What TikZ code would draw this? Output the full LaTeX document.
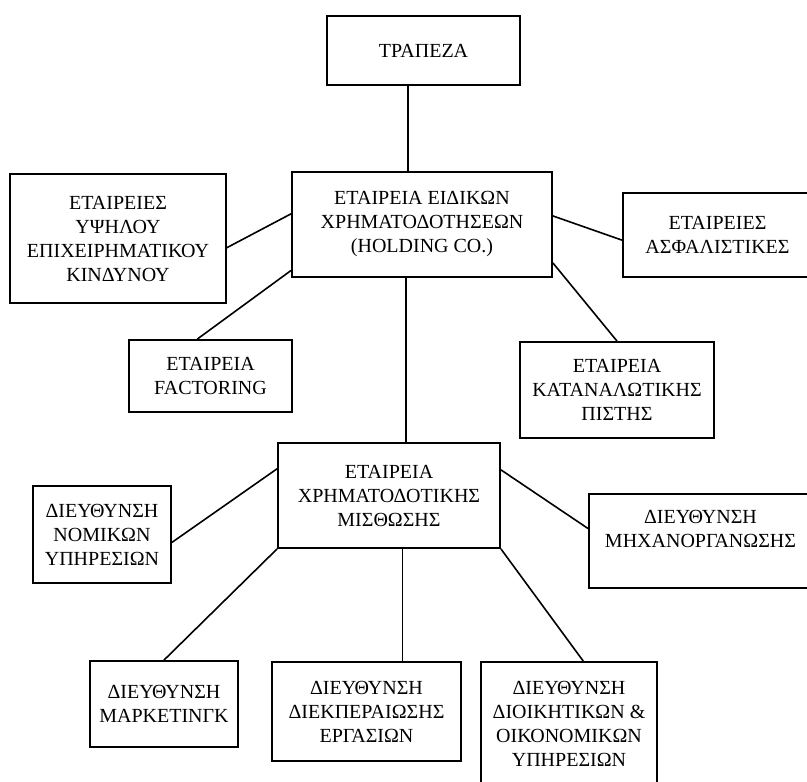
\documentclass[tikz,border=0pt]{standalone}
\usepackage{fontspec}
\setmainfont{Liberation Serif}
\usepackage{xcolor}
\usetikzlibrary{calc}

\tikzset{
  box/.style={draw, line width=1.4pt, align=center, inner sep=2pt, font=\fontsize{15}{18}\selectfont},
  link/.style={line width=1.2pt}
}

\begin{document}
\begin{tikzpicture}[x=0.75pt,y=0.75pt,yscale=-1,xscale=1]

\useasboundingbox (0,0) rectangle (807,782);


\node [box, minimum width=144.75pt, minimum height=51.75pt] (bank) at (423.5,50.5) {ΤΡΑΠΕΖΑ};

\node [box, minimum width=195pt, minimum height=78.75pt] (hold) at (422,224.5) {ΕΤΑΙΡΕΙΑ ΕΙΔΙΚΩΝ\\ΧΡΗΜΑΤΟΔΟΤΗΣΕΩΝ\\(HOLDING CO.)};

\node [box, minimum width=162pt, minimum height=96.75pt] (risk) at (118,238.5) {ΕΤΑΙΡΕΙΕΣ\\ΥΨΗΛΟΥ\\ΕΠΙΧΕΙΡΗΜΑΤΙΚΟΥ\\ΚΙΝΔΥΝΟΥ};

\node [box, minimum width=141.75pt, minimum height=63pt] (insur) at (717.5,235) {ΕΤΑΙΡΕΙΕΣ\\ΑΣΦΑΛΙΣΤΙΚΕΣ};

\node [box, minimum width=122.25pt, minimum height=54pt] (fact) at (210.5,376) {ΕΤΑΙΡΕΙΑ\\FACTORING};

\node [box, minimum width=145.5pt, minimum height=72pt] (cons) at (617,390) {ΕΤΑΙΡΕΙΑ\\ΚΑΤΑΝΑΛΩΤΙΚΗΣ\\ΠΙΣΤΗΣ};

\node [box, minimum width=166.5pt, minimum height=78.75pt] (lease) at (389,495.5) {ΕΤΑΙΡΕΙΑ\\ΧΡΗΜΑΤΟΔΟΤΙΚΗΣ\\ΜΙΣΘΩΣΗΣ};

\node [box, minimum width=103.5pt, minimum height=72.75pt] (legal) at (102,534.5) {ΔΙΕΥΘΥΝΣΗ\\ΝΟΜΙΚΩΝ\\ΥΠΗΡΕΣΙΩΝ};

\node [box, minimum width=167.25pt, minimum height=70.5pt] (comp) at (700.5,541) {ΔΙΕΥΘΥΝΣΗ\\ΜΗΧΑΝΟΡΓΑΝΩΣΗΣ\\~};

\node [box, minimum width=111pt, minimum height=64.5pt] (mark) at (164,704) {ΔΙΕΥΘΥΝΣΗ\\ΜΑΡΚΕΤΙΝΓΚ};

\node [box, minimum width=141.75pt, minimum height=74.25pt] (proc) at (366.5,711.5) {ΔΙΕΥΘΥΝΣΗ\\ΔΙΕΚΠΕΡΑΙΩΣΗΣ\\ΕΡΓΑΣΙΩΝ};

\node [box, minimum width=132pt, minimum height=92.25pt] (admin) at (569,723.5) {ΔΙΕΥΘΥΝΣΗ\\ΔΙΟΙΚΗΤΙΚΩΝ \&\\ΟΙΚΟΝΟΜΙΚΩΝ\\ΥΠΗΡΕΣΙΩΝ};


\coordinate (bankfoot) at ($(bank.south west)!0.42!(bank.south east)$);

\coordinate (holdfoot) at ($(hold.south west)!0.44!(hold.south east)$);

\coordinate (leasefoot) at ($(lease.south west)!0.56!(lease.south east)$);


\draw [link] (bankfoot) -- (bankfoot |- hold.north);

\draw [link] ($(hold.north west)!0.4!(hold.south west)$) -- ($(risk.north east)!0.57!(risk.south east)$);

\draw [link] ($(hold.north east)!0.42!(hold.south east)$) -- ($(insur.north west)!0.56!(insur.south west)$);

\draw [link] ($(hold.north west)!0.93!(hold.south west)$) -- ($(fact.north west)!0.42!(fact.north east)$);

\draw [link] ($(hold.north east)!0.86!(hold.south east)$) -- (cons.north);

\draw [link] (holdfoot) -- (holdfoot |- lease.north);

\draw [link] ($(lease.north west)!0.25!(lease.south west)$) -- ($(legal.north east)!0.58!(legal.south east)$);

\draw [link] ($(lease.north east)!0.26!(lease.south east)$) -- ($(comp.north west)!0.37!(comp.south west)$);

\draw [link] (lease.south west) -- (mark.north);

\draw [link] (leasefoot) -- (leasefoot |- proc.north);

\draw [link] (lease.south east) -- ($(admin.north west)!0.58!(admin.north east)$);


\end{tikzpicture}
\end{document}
